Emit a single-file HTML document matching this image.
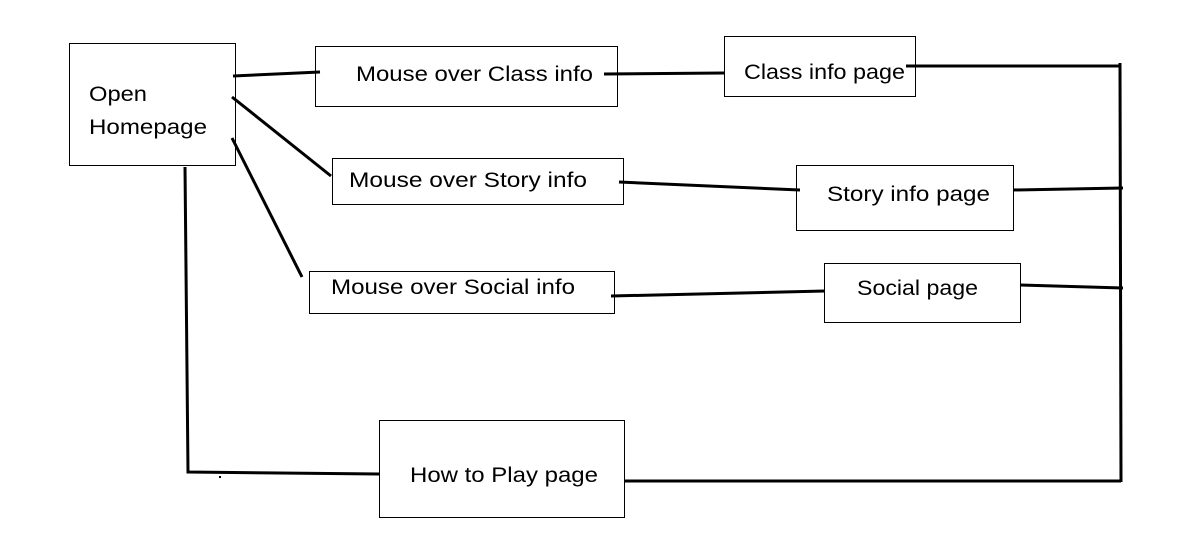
<!DOCTYPE html>
<html><head><meta charset="utf-8"><style>
html,body{margin:0;padding:0;background:#fff;}
svg{display:block;}
text{font-family:"Liberation Sans",sans-serif;font-size:21px;fill:#000;}
</style></head><body>
<svg width="1185" height="552" viewBox="0 0 1185 552" xmlns="http://www.w3.org/2000/svg">
<g fill="#fff" stroke="#000" stroke-width="1">
<rect x="69.5" y="43.5" width="166" height="122"/>
<rect x="315.5" y="46.5" width="302" height="60"/>
<rect x="724.5" y="36.5" width="191" height="60"/>
<rect x="332.5" y="158.5" width="291" height="46"/>
<rect x="796.5" y="165.5" width="217" height="65"/>
<rect x="309.5" y="271.5" width="305" height="42"/>
<rect x="824.5" y="263.5" width="196" height="59"/>
<rect x="379.5" y="420.5" width="245" height="97"/>
</g>
<g stroke="#000" stroke-width="3" fill="none">
<line x1="233" y1="76" x2="320" y2="72"/>
<line x1="232" y1="97" x2="331" y2="176"/>
<line x1="232" y1="138" x2="302" y2="277"/>
<polyline points="185,167 188,472 379,474"/>
<line x1="604" y1="74" x2="724" y2="73"/>
<line x1="619" y1="182" x2="800" y2="190"/>
<line x1="611" y1="296" x2="825" y2="291"/>
<line x1="906" y1="66" x2="1121" y2="66"/>
<line x1="1120" y1="63" x2="1121" y2="482"/>
<line x1="1013" y1="190" x2="1123" y2="188"/>
<line x1="1020" y1="285" x2="1123" y2="288"/>
<line x1="624" y1="481" x2="1121" y2="481"/>
</g>
<rect x="219" y="476" width="2" height="2" fill="#000"/>
<text x="89" y="101" textLength="58" lengthAdjust="spacingAndGlyphs">Open</text>
<text x="89" y="134" textLength="118" lengthAdjust="spacingAndGlyphs">Homepage</text>
<text x="356" y="81" textLength="237" lengthAdjust="spacingAndGlyphs">Mouse over Class info</text>
<text x="744" y="79" textLength="161" lengthAdjust="spacingAndGlyphs">Class info page</text>
<text x="349" y="187" textLength="238" lengthAdjust="spacingAndGlyphs">Mouse over Story info</text>
<text x="827" y="201" textLength="163" lengthAdjust="spacingAndGlyphs">Story info page</text>
<text x="331" y="294" textLength="244" lengthAdjust="spacingAndGlyphs">Mouse over Social info</text>
<text x="857" y="295" textLength="121" lengthAdjust="spacingAndGlyphs">Social page</text>
<text x="410" y="482" textLength="188" lengthAdjust="spacingAndGlyphs">How to Play page</text>
</svg>
</body></html>
